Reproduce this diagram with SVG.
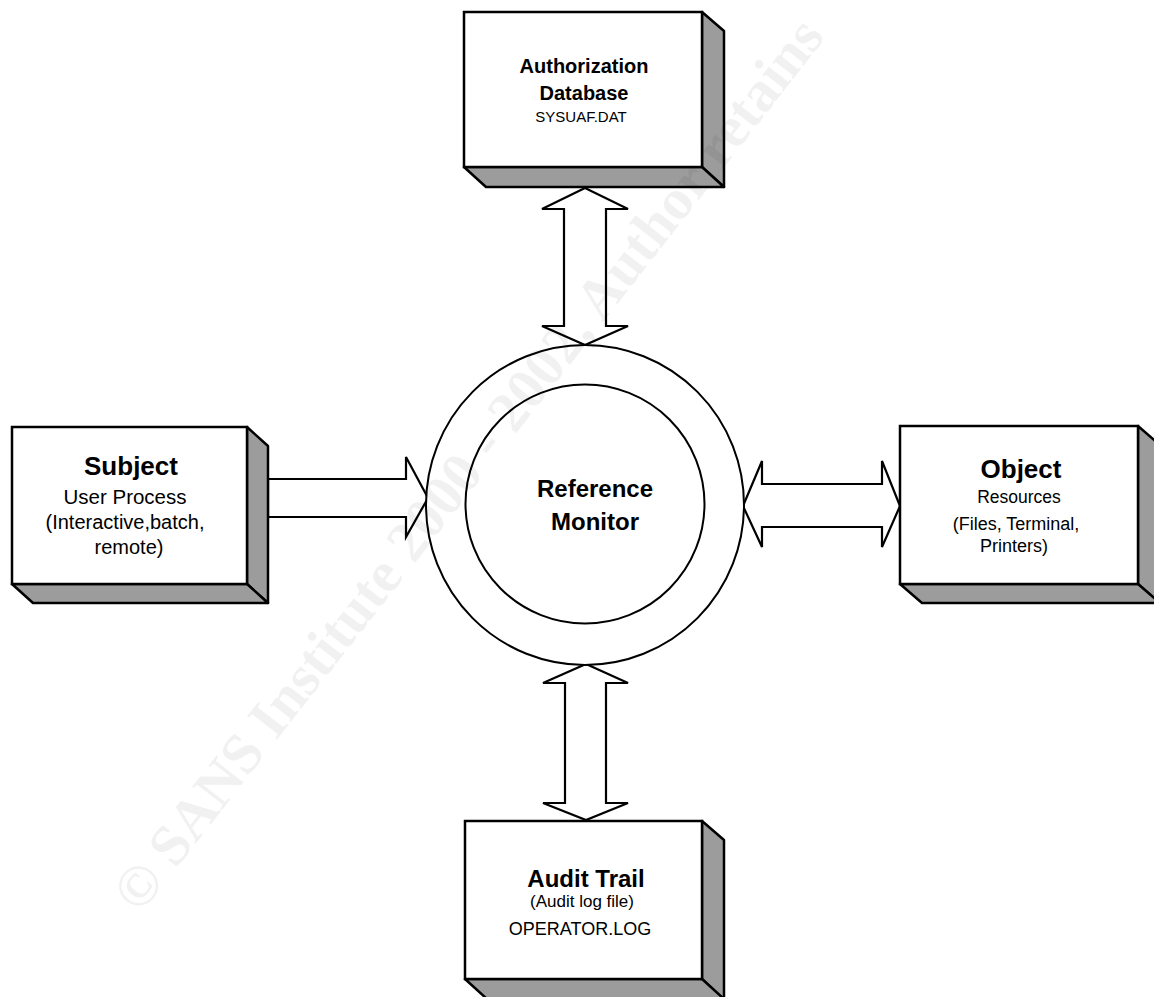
<svg xmlns="http://www.w3.org/2000/svg" width="1154" height="997" viewBox="0 0 1154 997">
<style>
.front{fill:#fff;stroke:#000;stroke-width:2.5}
.shade{fill:#9c9c9c;stroke:#000;stroke-width:2.5;stroke-linejoin:round}
.arrow{fill:#fff;stroke:#000;stroke-width:2.2;stroke-linejoin:miter}
.ring{fill:#fff;stroke:#000;stroke-width:2}
.t{font-family:"Liberation Sans",Arial,sans-serif;fill:#000;text-anchor:middle}
.b{font-weight:bold}
.wm{font-family:"Liberation Serif","Times New Roman",serif;font-weight:bold;fill:#000;fill-opacity:0.055}
</style>
<rect width="1154" height="997" fill="#fff"/>
<g id="connectors">
<polygon class="arrow" points="585,188 628,209 606,209 606,326 628,326 585,345 542,326 564,326 564,209 542,209"/>
<polygon class="arrow" points="586,664 628,683 606,683 606,803 628,803 586,820 543,803 565,803 565,683 543,683"/>
<polygon class="arrow" points="268,479 406,479 406,457 428,498 406,537 406,517 268,517"/>
<polygon class="arrow" points="743,506 762,461 762,484 882,484 882,461 900,506 882,547 882,527 762,527 762,547"/>
</g>
<g id="monitor">
<ellipse class="ring" cx="585" cy="505" rx="159" ry="160"/>
<circle class="ring" cx="585" cy="504" r="119.5"/>
<text class="t b" x="595" y="497" font-size="24">Reference</text>
<text class="t b" x="595" y="530" font-size="24">Monitor</text>
</g>
<g id="authdb">
<polygon class="shade" points="702,12 724,31 724,187 702,167"/>
<polygon class="shade" points="464,167 702,167 724,187 486,187"/>
<rect class="front" x="464" y="12" width="238" height="155"/>
<text class="t b" x="584" y="73" font-size="20">Authorization</text>
<text class="t b" x="584" y="100" font-size="20">Database</text>
<text class="t" x="581" y="122" font-size="15">SYSUAF.DAT</text>
</g>
<g id="subject">
<polygon class="shade" points="247,427 268,446 268,603 247,584"/>
<polygon class="shade" points="12,584 247,584 268,603 33,603"/>
<rect class="front" x="12" y="427" width="235" height="157"/>
<text class="t b" x="131" y="475" font-size="26">Subject</text>
<text class="t" x="125" y="504" font-size="20.5">User Process</text>
<text class="t" x="125" y="529" font-size="20">(Interactive,batch,</text>
<text class="t" x="129" y="554" font-size="20">remote)</text>
</g>
<g id="object">
<polygon class="shade" points="1138,426 1160,445 1160,603 1138,584"/>
<polygon class="shade" points="900,584 1138,584 1160,603 922,603"/>
<rect class="front" x="900" y="426" width="238" height="158"/>
<text class="t b" x="1021" y="478" font-size="26">Object</text>
<text class="t" x="1019" y="503" font-size="17.5">Resources</text>
<text class="t" x="1016" y="530" font-size="18">(Files, Terminal,</text>
<text class="t" x="1014" y="552" font-size="18">Printers)</text>
</g>
<g id="audit">
<polygon class="shade" points="702,821 724,840 724,1000 702,979"/>
<polygon class="shade" points="465,979 702,979 724,999 487,999"/>
<rect class="front" x="465" y="821" width="237" height="158"/>
<text class="t b" x="586" y="887" font-size="24">Audit Trail</text>
<text class="t" x="582" y="907" font-size="17">(Audit log file)</text>
<text class="t" x="580" y="935" font-size="18">OPERATOR.LOG</text>
</g>
<g id="watermark">
<text class="wm" x="0" y="0" font-size="58" transform="translate(140,915) rotate(-52)">© SANS Institute 2000 - 2002, Author retains</text>
</g>
</svg>
